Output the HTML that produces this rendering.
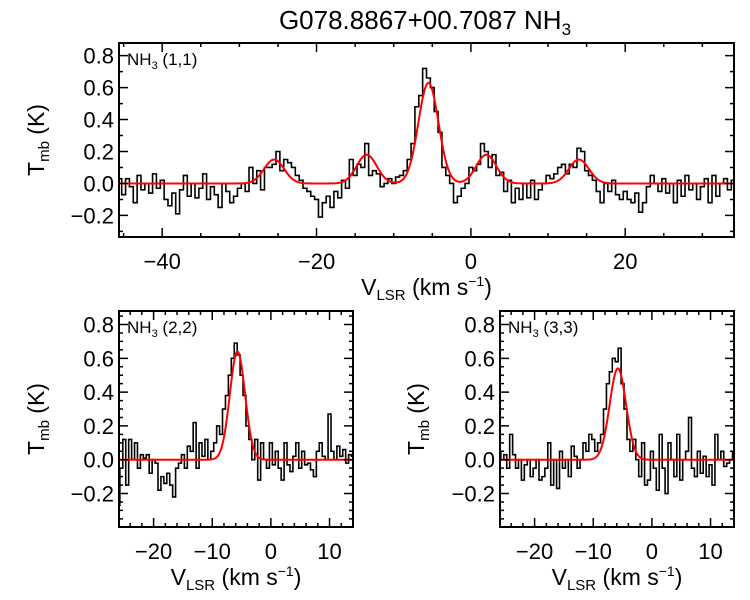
<!DOCTYPE html>
<html><head><meta charset="utf-8"><style>
body{margin:0;background:#fff}
svg{display:block;font-family:"Liberation Sans",sans-serif}
</style></head><body>
<svg id="s" width="750" height="600" viewBox="0 0 750 600">
<text x="425" y="29" font-size="26" text-anchor="middle">G078.8867+00.7087 NH<tspan font-size="17" dy="6">3</tspan></text>
</svg>
<script>
// (1,1) spectrum: x from -45.5 step 0.5
const x11Start=-45.5, x11Step=0.5;
const t11=[0.03,-0.07,0.03,-0.02,-0.12,0.05,-0.04,0.0,-0.06,0.06,-0.03,0.02,-0.1,-0.14,-0.06,-0.19,-0.04,0.05,-0.08,0.0,-0.09,-0.03,0.06,-0.1,-0.02,-0.07,-0.15,0.0,-0.05,-0.12,-0.08,-0.03,
0.0,-0.05,0.1,0.0,0.08,-0.04,0.1,0.1,0.12,0.2,0.08,0.15,0.13,0.1,0.05,0.02,-0.03,-0.05,-0.08,-0.1,
-0.21,-0.12,-0.08,-0.15,-0.05,-0.09,0.02,-0.03,0.15,0.05,0.12,0.1,0.25,0.05,0.08,0.06,-0.02,0.0,0.03,0.0,
0.04,0.05,0.08,0.15,0.25,0.48,0.55,0.72,0.66,0.6,0.45,0.32,0.1,0.05,0.0,-0.12,-0.08,-0.03,0.0,0.1,
0.08,0.12,0.25,0.2,0.1,0.18,0.05,0.07,-0.05,0.02,-0.12,-0.03,-0.1,0.0,-0.09,0.02,-0.1,-0.04,0.0,0.05,
0.03,0.06,0.1,0.12,0.06,0.12,0.1,0.22,0.2,0.08,0.05,0.02,-0.05,-0.12,0.0,-0.05,0.02,-0.07,-0.1,-0.05,
-0.1,-0.12,-0.06,-0.18,-0.12,-0.02,0.05,0.0,-0.05,0.03,-0.06,0.0,-0.12,0.02,-0.08,0.05,-0.04,0.0,-0.1,-0.02,0.03,-0.12,0.05,-0.08,0.0,0.03,-0.04,0.02];
const fit11Centers=[-25.5,-13.5,-5.5,2.0,14.0];
const fit11Amps=[0.15,0.18,0.63,0.18,0.15];
const fit11Sigma=[1.3,1.3,1.3,1.3,1.3];
// (2,2), (3,3): x from -26 step 0.5
const xSmallStart=-26, xSmallStep=0.5;
const t22=[-0.27,-0.05,0.12,-0.15,0.12,0.0,0.1,-0.05,0.03,0.01,0.03,-0.08,
0.0,-0.02,-0.18,-0.1,-0.14,-0.08,-0.15,-0.22,-0.05,-0.02,
0.03,-0.05,0.08,0.05,0.22,-0.05,0.1,0.02,0.12,0.0,
0.05,0.1,0.2,0.15,0.3,0.38,0.5,0.6,0.69,0.62,
0.5,0.38,0.2,0.12,0.0,0.12,-0.12,0.1,0.0,-0.05,
0.1,-0.03,0.05,-0.05,-0.12,0.1,-0.03,-0.07,0.02,0.1,
-0.05,0.05,-0.03,-0.02,-0.06,-0.1,0.05,0.1,0.02,0.0,
0.27,0.05,0.0,0.08,0.02,0.06,-0.02,0.03,0.02];
const fit22Centers=[-5.7], fit22Amps=[0.64], fit22Sigma=[1.3];
const t33=[0.05,0.0,0.03,-0.05,0.15,0.03,-0.05,0.0,-0.12,-0.03,0.0,-0.1,
-0.05,0.0,-0.12,-0.1,-0.05,0.1,-0.15,0.0,-0.17,0.05,
-0.05,0.0,-0.1,0.08,0.02,-0.05,0.0,0.1,0.05,0.15,
0.12,0.05,0.1,0.15,0.3,0.45,0.52,0.6,0.58,0.66,
0.45,0.3,0.12,0.05,0.12,0.0,-0.1,0.1,-0.15,-0.12,
0.05,-0.05,-0.18,0.15,-0.05,-0.2,0.1,0.0,-0.1,0.15,
-0.12,0.0,0.05,0.25,-0.05,-0.1,0.05,-0.08,0.02,-0.1,
-0.03,-0.15,0.15,0.0,0.05,-0.04,-0.02,0.0,0.05];
const fit33Centers=[-5.8], fit33Amps=[0.54], fit33Sigma=[1.4];
const topXTicks=[-40,-20,0,20];
const smallXTicks=[-20,-10,0,10];
const yTicks=[-0.2,0.0,0.2,0.4,0.6,0.8];
const yTickLabels=["\u22120.2","0.0","0.2","0.4","0.6","0.8"];

const NS="http://www.w3.org/2000/svg";
const svg=document.getElementById('s');
function mk(tag,attrs,parent){const e=document.createElementNS(NS,tag);for(const k in attrs)e.setAttribute(k,attrs[k]);(parent||svg).appendChild(e);return e;}

function panel(o){
  const g=mk('g',{});
  
  
  const X=v=>o.L+(v-o.x0)/(o.x1-o.x0)*(o.R-o.L);
  const Y=v=>o.B-(v-o.y0)/(o.y1-o.y0)*(o.B-o.T);
  const cid='c'+o.name;
  const cp=mk('clipPath',{id:cid},g);mk('rect',{x:o.L,y:o.T,width:o.R-o.L,height:o.B-o.T},cp);
  let d='';
  o.data.forEach((v,i)=>{const xc=o.xs+i*o.step;const a=X(xc-o.step/2),b=X(xc+o.step/2),y=Y(v);
    d+=(i===0?'M'+a+','+y:'L'+a+','+y)+'L'+b+','+y;});
  const h=mk('path',{d:d,fill:'none',stroke:'#000','stroke-width':1.6,'clip-path':'url(#'+cid+')'},g);
  
  
  let f='';
  for(let k=0;k<=400;k++){const xv=o.x0+(o.x1-o.x0)*k/400;let s=0;
    o.fc.forEach((c,j)=>{s+=o.fa[j]*Math.exp(-0.5*Math.pow((xv-c)/o.fs[j],2));});
    f+=(k?'L':'M')+X(xv)+','+Y(s);}
  const fl=mk('path',{d:f,fill:'none',stroke:'#f00','stroke-width':2,'clip-path':'url(#'+cid+')'},g);
  
  
  let t='';
  for(let v=Math.ceil(o.x0/o.xmin)*o.xmin;v<=o.x1+1e-9;v+=o.xmin){const maj=Math.abs(v/o.xmaj-Math.round(v/o.xmaj))<1e-6;const len=maj?9:4;const px=X(v);
    t+='M'+px+','+o.B+'v'+(-len)+'M'+px+','+o.T+'v'+len;}
  for(let v=Math.ceil(o.y0/o.ymin-1e-9)*o.ymin;v<=o.y1+1e-9;v+=o.ymin){const maj=Math.abs(v/0.2-Math.round(v/0.2))<1e-6;const len=maj?9:4;const py=Y(v);
    t+='M'+o.L+','+py+'h'+len+'M'+o.R+','+py+'h'+(-len);}
  mk('path',{d:t,stroke:'#000','stroke-width':1.5,fill:'none'},g);
  const fr=mk('rect',{x:o.L,y:o.T,width:o.R-o.L,height:o.B-o.T,fill:'none',stroke:'#000','stroke-width':2},g);
  
  
  o.xt.forEach(v=>{const e=mk('text',{x:X(v),y:o.B+32,'font-size':22,'text-anchor':'middle'},g);e.textContent=v<0?'\u2212'+(-v):String(v);
    
    });
  yTicks.forEach((v,i)=>{const e=mk('text',{x:o.L-5,y:Y(v)+8,'font-size':22,'text-anchor':'end'},g);e.textContent=yTickLabels[i];
    
    });
  const lb=mk('text',{x:o.L+8,y:o.T+22,'font-size':17},g);
  lb.innerHTML='NH<tspan font-size="11" dy="4">3</tspan><tspan dy="-4"> '+o.label+'</tspan>';
  
  
  const xl=mk('text',{x:(o.L+o.R)/2,y:o.B+58,'font-size':23,'text-anchor':'middle'},g);
  xl.innerHTML='V<tspan font-size="15" dy="5">LSR</tspan><tspan dy="-5"> (km s</tspan><tspan font-size="14" dy="-9">\u22121</tspan><tspan dy="9">)</tspan>';
  
  
  const yc=(o.T+o.B)/2;
  const yl=mk('text',{x:o.ytx,y:yc,'font-size':23,'text-anchor':'middle',transform:'rotate(-90 '+o.ytx+' '+yc+')'},g);
  yl.innerHTML='T<tspan font-size="15" dy="5">mb</tspan><tspan dy="-5"> (K)</tspan>';
  
  
}
panel({name:'panel-nh3-11',L:119,R:734,T:43,B:237,x0:-45.6,x1:34.1,y0:-0.335,y1:0.879,xs:x11Start,step:x11Step,data:t11,fc:fit11Centers,fa:fit11Amps,fs:fit11Sigma,xmaj:20,xmin:5,ymin:0.1,xt:topXTicks,label:'(1,1)',ytx:44});
panel({name:'panel-nh3-22',L:119,R:353,T:311,B:527,x0:-25.9,x1:14,y0:-0.398,y1:0.88,xs:xSmallStart,step:xSmallStep,data:t22,fc:fit22Centers,fa:fit22Amps,fs:fit22Sigma,xmaj:10,xmin:2,ymin:0.05,xt:smallXTicks,label:'(2,2)',ytx:44});
panel({name:'panel-nh3-33',L:500,R:734,T:311,B:527,x0:-25.9,x1:14,y0:-0.398,y1:0.88,xs:xSmallStart,step:xSmallStep,data:t33,fc:fit33Centers,fa:fit33Amps,fs:fit33Sigma,xmaj:10,xmin:2,ymin:0.05,xt:smallXTicks,label:'(3,3)',ytx:424});
</script>
</body></html>
